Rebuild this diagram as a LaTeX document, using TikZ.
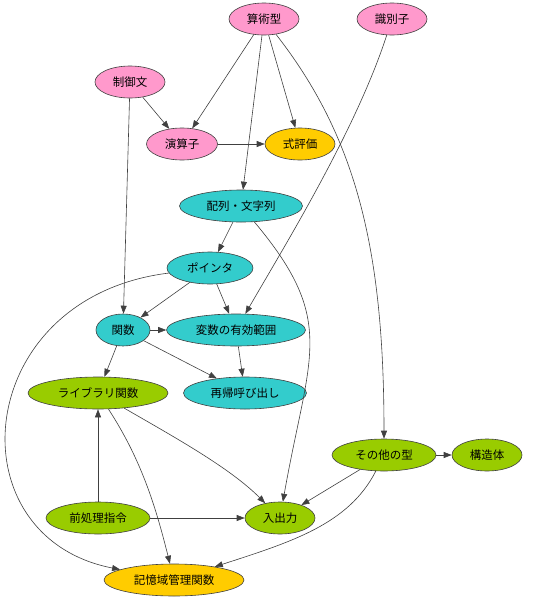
\documentclass[tikz,border=0pt]{standalone}
\usepackage{fontspec}
\setmainfont{Noto Sans CJK JP}
\usetikzlibrary{arrows.meta, shapes.geometric}
\definecolor{topicpink}{RGB}{255, 153, 204}
\definecolor{topicgold}{RGB}{255, 204, 0}
\definecolor{topiccyan}{RGB}{51, 204, 204}
\definecolor{topicgreen}{RGB}{153, 204, 0}

\tikzset{
    topic/.style={
        ellipse,
        draw=black!75,
        line width=0.6pt,
        minimum height=32pt,
        inner sep=0pt,
        font=\fontsize{11.5}{13}\selectfont
    },
    pinktopic/.style={topic, fill=topicpink},
    goldtopic/.style={topic, fill=topicgold},
    cyantopic/.style={topic, fill=topiccyan},
    greentopic/.style={topic, fill=topicgreen},
    link/.style={draw=black!75, line width=0.6pt, -{Triangle[length=8pt, width=6pt]}}
}

\begin{document}
\begin{tikzpicture}[x=1pt, y=1pt]
        \useasboundingbox (0,0) rectangle (537,-600);

        % top row
        \node[pinktopic, minimum width=70pt] (sanjutsu) at (264,-19) {算術型};
        \node[pinktopic, minimum width=70pt] (shikibetsu) at (392,-19) {識別子};
        \node[pinktopic, minimum width=70pt] (seigyo) at (130,-82) {制御文};
        \node[pinktopic, minimum width=71pt] (enzan) at (182,-144) {演算子};
        \node[goldtopic, minimum width=70pt] (hyoka) at (300,-144) {式評価};

        % middle
        \node[cyantopic, minimum width=123pt] (hairetsu) at (241,-206) {配列・文字列};
        \node[cyantopic, minimum width=86pt] (pointa) at (210,-268) {ポインタ};
        \node[cyantopic, minimum width=54pt] (kansu) at (123,-330) {関数};
        \node[cyantopic, minimum width=139pt] (hensu) at (236,-330) {変数の有効範囲};
        \node[greentopic, minimum width=140pt] (library) at (98,-393) {ライブラリ関数};
        \node[cyantopic, minimum width=123pt] (saiki) at (245,-393) {再帰呼び出し};

        % bottom
        \node[greentopic, minimum width=104pt] (sonota) at (384,-455) {その他の型};
        \node[greentopic, minimum width=70pt] (kozotai) at (487,-455) {構造体};
        \node[greentopic, minimum width=104pt] (zensho) at (98,-518) {前処理指令};
        \node[greentopic, minimum width=70pt] (nyushutsu) at (280,-518) {入出力};
        \node[goldtopic, minimum width=140pt] (kioku) at (174,-580) {記憶域管理関数};

        \draw[link] (sanjutsu) -- (enzan);
        \draw[link] (sanjutsu) -- (hairetsu);
        \draw[link] (sanjutsu) -- (hyoka);
        \draw[link] (sanjutsu) to[out=-52, in=90, out distance=130, in distance=190] (sonota);
        \draw[link] (shikibetsu) to[out=-108, in=60, out distance=100, in distance=80] (hensu);
        \draw[link] (seigyo) -- (enzan);
        \draw[link] (seigyo) -- (kansu);
        \draw[link] (enzan) -- (hyoka);
        \draw[link] (hairetsu) -- (pointa);
        \draw[link] (hairetsu) to[out=-50, in=80, out distance=130, in distance=150] (nyushutsu);
        \draw[link] (pointa) -- (kansu);
        \draw[link] (pointa) -- (hensu);
        \draw[link] (pointa) to[out=187, in=169, out distance=199, in distance=171] (kioku);
        \draw[link] (kansu) -- (hensu);
        \draw[link] (kansu) -- (library);
        \draw[link] (kansu) -- (saiki);
        \draw[link] (hensu) -- (saiki);
        \draw[link] (library) to[out=-30, in=135, out distance=60, in distance=50] (nyushutsu);
        \draw[link] (library) to[out=-57, in=104, out distance=60, in distance=60] (kioku);
        \draw[link] (zensho) -- (library);
        \draw[link] (zensho) -- (nyushutsu);
        \draw[link] (sonota) -- (kozotai);
        \draw[link] (sonota) -- (nyushutsu);
        \draw[link] (sonota) to[out=-117, in=18, out distance=60, in distance=80] (kioku);
\end{tikzpicture}
\end{document}
